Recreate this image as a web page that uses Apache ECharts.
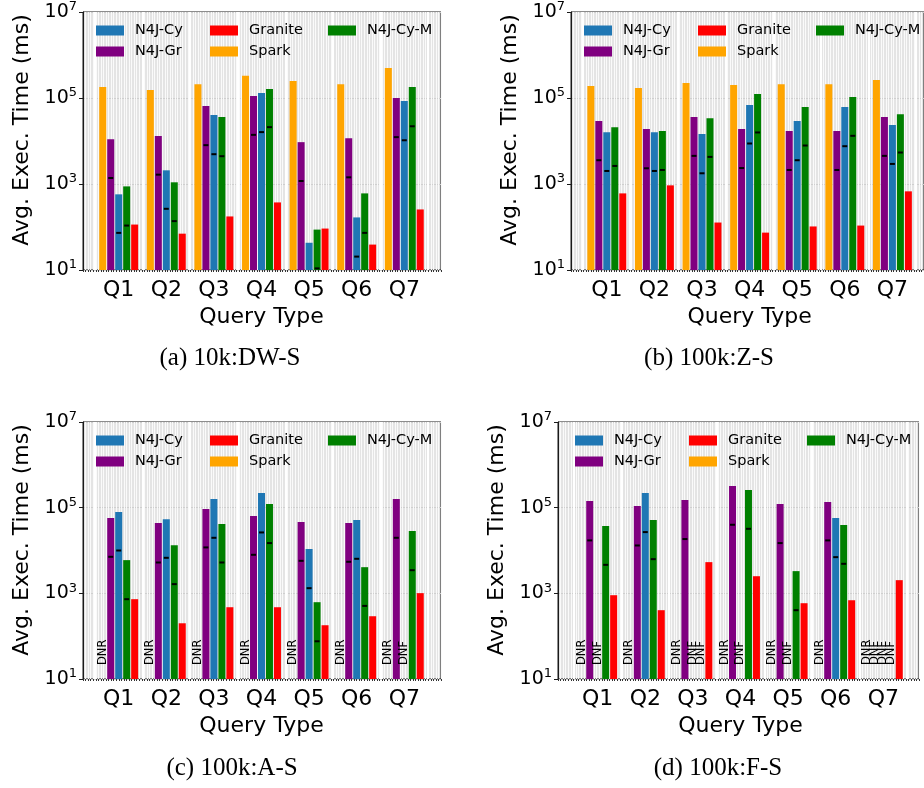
<!DOCTYPE html>
<html>
<head>
<meta charset="utf-8">
<script src="https://cdn.jsdelivr.net/npm/echarts@6/dist/echarts.min.js"></script>
<style>
  html, body { margin: 0; padding: 0; background: #fff; }
  #chart { width: 924px; height: 788px; }
</style>
</head>
<body>
<div id="chart"></div>
<script>
const queries = ['Q1', 'Q2', 'Q3', 'Q4', 'Q5', 'Q6', 'Q7'];
// bar order inside each group
const seriesNames = ['Spark', 'N4J-Gr', 'N4J-Cy', 'N4J-Cy-M', 'Granite'];
const seriesColors = ['#ffa500', '#800080', '#1f77b4', '#008000', '#ff0000'];
// legend is filled column by column (3 columns)
const legendColumns = [['N4J-Cy', 'N4J-Gr'], ['Granite', 'Spark'], ['N4J-Cy-M']];
const yTickExponents = [1, 3, 5, 7];
const captions = ['(a) 10k:DW-S', '(b) 100k:Z-S', '(c) 100k:A-S', '(d) 100k:F-S'];

// (a) 10k:DW-S  -- average exec time, ms
const sparkA = [1.8e5, 1.54e5, 2.1e5, 3.27e5, 2.5e5, 2.1e5, 5.0e5];
const grA = [1.1e4, 1.3e4, 6.5e4, 1.11e5, 9400, 1.16e4, 1.0e5];
const cyA = [575, 2080, 4.0e4, 1.31e5, 43, 167, 8.5e4];
const cymA = [880, 1095, 3.6e4, 1.62e5, 87, 605, 1.8e5];
const graniteA = [114, 70, 176, 373, 92, 39, 256];
// small black marks inside the bars
const grMarkA = [1380, 1650, 8000, 1.39e4, 1175, 1430, 1.23e4];
const cyMarkA = [73, 265, 4930, 1.61e4, null, 20.5, 1.04e4];
const cymMarkA = [108, 137, 4430, 2.1e4, 10.9, 73, 2.2e4];

// (b) 100k:Z-S
const sparkB = [1.9e5, 1.71e5, 2.24e5, 2.0e5, 2.1e5, 2.1e5, 2.63e5];
const grB = [2.9e4, 1.89e4, 3.6e4, 1.89e4, 1.7e4, 1.7e4, 3.6e4];
const cyB = [1.6e4, 1.6e4, 1.45e4, 6.9e4, 2.9e4, 6.2e4, 2.34e4];
const cymB = [2.1e4, 1.7e4, 3.4e4, 1.24e5, 6.2e4, 1.05e5, 4.2e4];
const graniteB = [605, 930, 127, 74, 103, 108, 675];
const grMarkB = [3570, 2320, 4510, 2350, 2120, 2120, 4510];
const cyMarkB = [2010, 2010, 1775, 8750, 3570, 7570, 2930];
const cymMarkB = [2630, 2120, 4270, 1.58e4, 7850, 1.32e4, 5400];

// (c) 100k:A-S
const sparkC = ['DNR', 'DNR', 'DNR', 'DNR', 'DNR', 'DNR', 'DNR'];
const grC = [5.7e4, 4.37e4, 9.3e4, 6.4e4, 4.6e4, 4.37e4, 1.59e5];
const cyC = [7.9e4, 5.4e4, 1.59e5, 2.19e5, 1.08e4, 5.13e4, 'DNF'];
const cymC = [5960, 1.33e4, 4.14e4, 1.21e5, 621, 4080, 2.84e4];
const graniteC = [730, 200, 474, 474, 180, 292, 1010];
const grMarkC = [7130, 5250, 1.18e4, 7940, 5740, 5450, 1.98e4];
const cyMarkC = [1.0e4, 6750, 1.98e4, 2.64e4, 1320, 6400, null];
const cymMarkC = [730, 1640, 5250, 1.49e4, 76, 509, 3470];

// (d) 100k:F-S
const sparkD = ['DNR', 'DNR', 'DNR', 'DNR', 'DNR', 'DNR', 'DNR'];
const grD = [1.43e5, 1.09e5, 1.5e5, 3.2e5, 1.21e5, 1.35e5, 'DNF'];
const cyD = ['DNF', 2.19e5, 'DNF', 'DNF', 'DNF', 5.7e4, 'DNF'];
const cymD = [3.72e4, 5.13e4, 'DNF', 2.58e5, 3300, 3.92e4, 'DNF'];
const graniteD = [904, 404, 5350, 2510, 588, 690, 2030];
const grMarkD = [1.72e4, 1.31e4, 1.85e4, 3.99e4, 1.49e4, 1.72e4, null];
const cyMarkD = [null, 2.69e4, null, null, null, 7000, null];
const cymMarkD = [4630, 6280, null, 3.21e4, 404, 4890, null];

const panels = [
  { values: [sparkA, grA, cyA, cymA, graniteA], marks: [null, grMarkA, cyMarkA, cymMarkA, null] },
  { values: [sparkB, grB, cyB, cymB, graniteB], marks: [null, grMarkB, cyMarkB, cymMarkB, null] },
  { values: [sparkC, grC, cyC, cymC, graniteC], marks: [null, grMarkC, cyMarkC, cymMarkC, null] },
  { values: [sparkD, grD, cyD, cymD, graniteD], marks: [null, grMarkD, cyMarkD, cymMarkD, null] }
];

// page layout (px)
const frames = [
  { left: 83, top: 12, width: 358, height: 258, q1: 118.7, legendLeft: 96, capX: 230, capY: 358 },
  { left: 571, top: 12, width: 359, height: 258, q1: 606.8, legendLeft: 584, capX: 709, capY: 358 },
  { left: 83, top: 422, width: 358, height: 257, q1: 118.7, legendLeft: 96, capX: 232, capY: 768 },
  { left: 558, top: 422, width: 361, height: 257, q1: 597.7, legendLeft: 575, capX: 718, capY: 768 }
];
const step = 47.6;
const legendColOffsets = [0, 114, 232];

const grid = [], xAxis = [], yAxis = [], series = [], legend = [], graphic = [];

panels.forEach((panel, p) => {
  const f = frames[p];
  // outer frame: grey background, stripes, y labels
  grid.push({
    left: f.left, top: f.top, width: f.width, height: f.height,
    show: true, backgroundColor: '#e4e4e4', borderColor: '#1a1a1a', borderWidth: 1
  });
  // inner grid holding the categories
  grid.push({ left: f.q1 - step / 2, top: f.top, width: step * queries.length, height: f.height });

  xAxis.push({
    gridIndex: 2 * p, type: 'value', min: 0, max: 140, interval: 1,
    axisLine: { show: false },
    axisTick: { show: true, length: 2, lineStyle: { color: '#333' } },
    axisLabel: { show: false },
    splitLine: { show: true, lineStyle: { color: '#fafafa', width: 1 } }
  });
  xAxis.push({
    gridIndex: 2 * p + 1, type: 'category', data: queries,
    axisLine: { show: false },
    axisTick: { show: false },
    axisLabel: { fontSize: 22, color: '#000', margin: 9 },
    splitLine: { show: true, lineStyle: { color: '#ffffff', width: 2 } },
    name: 'Query Type', nameLocation: 'middle', nameGap: 36,
    nameTextStyle: { fontSize: 22, color: '#000' }
  });

  yAxis.push({
    gridIndex: 2 * p, type: 'value',
    min: yTickExponents[0], max: yTickExponents[yTickExponents.length - 1],
    interval: yTickExponents[1] - yTickExponents[0],
    axisLine: { show: true, lineStyle: { color: '#1a1a1a' } },
    axisTick: { show: true, length: 4, lineStyle: { color: '#1a1a1a' } },
    axisLabel: {
      margin: 6,
      formatter: v => '{b|10}{s|' + v + '}',
      rich: {
        b: { fontSize: 19, color: '#000' },
        s: { fontSize: 13, color: '#000', padding: [0, 0, 10, 0] }
      }
    },
    splitLine: { show: true, lineStyle: { color: '#cfcfcf' } }
  });
  yAxis.push({ gridIndex: 2 * p + 1, type: 'log', logBase: 10, min: 10, max: 1e7, show: false });

  seriesNames.forEach((name, k) => {
    const vals = panel.values[k];
    const marks = panel.marks[k];
    const mp = [];
    vals.forEach((v, i) => {
      if (typeof v === 'string') {
        mp.push({
          coord: [queries[i], 10], symbolSize: 0,
          label: {
            show: true, formatter: v, rotate: 90, position: 'top', distance: 14,
            align: 'left', verticalAlign: 'middle', fontSize: 11.5, color: '#000'
          }
        });
      }
    });
    if (marks) {
      marks.forEach((m, i) => {
        if (m != null) mp.push({ coord: [queries[i], m] });
      });
    }
    series.push({
      type: 'bar', name,
      xAxisIndex: 2 * p + 1, yAxisIndex: 2 * p + 1,
      barWidth: 7, barGap: '14%',
      itemStyle: { color: seriesColors[k] },
      data: vals.map(v => (typeof v === 'number' ? v : null)),
      markPoint: {
        symbol: 'rect', symbolSize: [5, 2],
        itemStyle: { color: '#000' },
        label: { show: false },
        data: mp
      }
    });
  });

  legendColumns.forEach((col, c) => {
    legend.push({
      orient: 'vertical', left: f.legendLeft + legendColOffsets[c], top: f.top + 11,
      data: col, icon: 'rect', itemWidth: 28, itemHeight: 10, itemGap: 6, padding: 0,
      selectedMode: false,
      textStyle: { fontSize: 14.5, color: '#000', padding: [0, 0, 0, 6] }
    });
  });

  graphic.push({
    type: 'text', x: f.left - 61, y: f.top + 118, rotation: Math.PI / 2,
    style: { text: 'Avg. Exec. Time (ms)', fontSize: 22, fontFamily: 'DejaVu Sans', fill: '#000', align: 'center', verticalAlign: 'middle' }
  });
  graphic.push({
    type: 'text', x: f.capX, y: f.capY,
    style: { text: captions[p], fontSize: 25, fontFamily: 'Liberation Serif', fill: '#000', align: 'center', verticalAlign: 'middle' }
  });
});

const chart = echarts.init(document.getElementById('chart'), null, { renderer: 'canvas' });
chart.setOption({
  animation: false,
  textStyle: { fontFamily: 'DejaVu Sans' },
  grid, xAxis, yAxis, series, legend, graphic
});
</script>
</body>
</html>
